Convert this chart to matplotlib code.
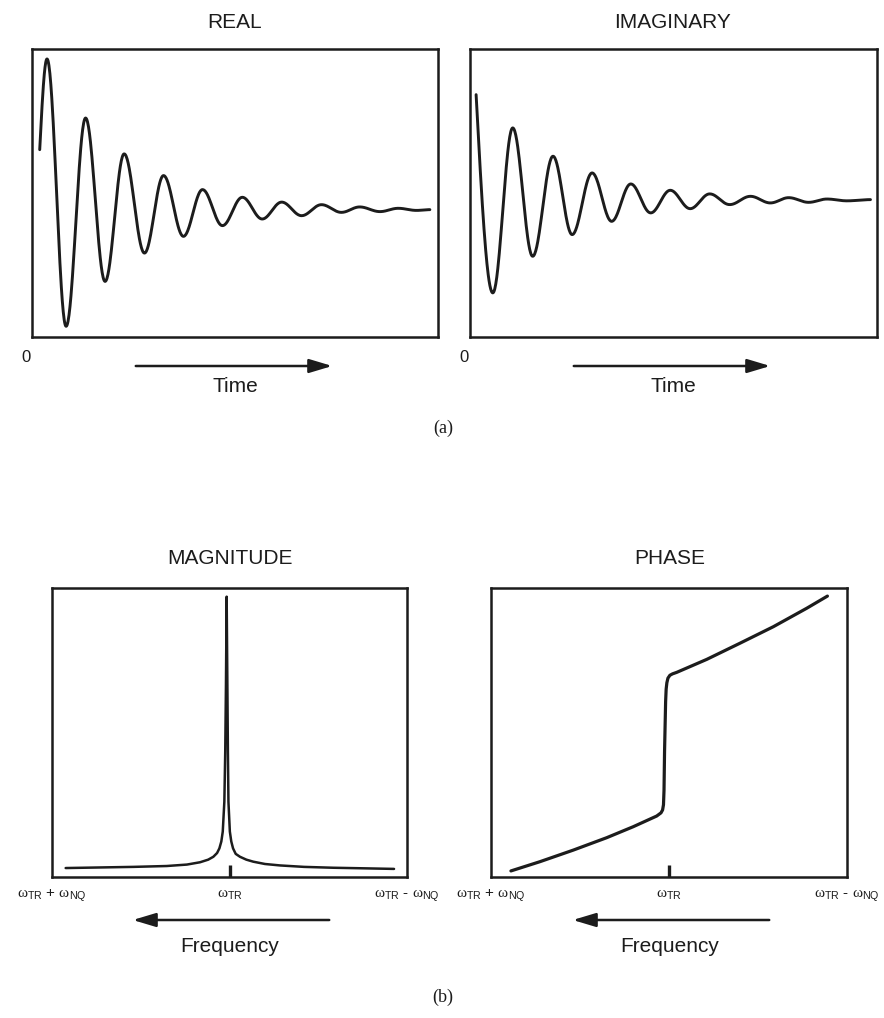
import numpy as np
import matplotlib
matplotlib.use("Agg")
import matplotlib.pyplot as plt

plt.rcParams['font.family'] = ['Liberation Sans', 'DejaVu Sans']
plt.rcParams['mathtext.fontset'] = 'custom'
plt.rcParams['mathtext.rm'] = 'Liberation Serif'
plt.rcParams['mathtext.it'] = 'Liberation Serif'
plt.rcParams['mathtext.sf'] = 'Liberation Sans'

# ---- data ----
# time-domain signals: key points (extrema), time as fraction of the record
real_t = [0.019, 0.037, 0.084, 0.132, 0.180, 0.227, 0.277, 0.324, 0.373, 0.420, 0.469,
          0.518, 0.567, 0.615, 0.664, 0.713, 0.762, 0.807, 0.857, 0.902, 0.947, 0.980]
real_y = [0.398, 1.000, -0.774, 0.608, -0.476, 0.370, -0.288, 0.226, -0.177, 0.133, -0.106,
          0.082, -0.062, 0.050, -0.040, 0.033, -0.018, 0.018, -0.013, 0.009, -0.005, 0.0]

imag_t = [0.015, 0.056, 0.105, 0.154, 0.204, 0.251, 0.300, 0.348, 0.395, 0.444, 0.492,
          0.541, 0.589, 0.638, 0.689, 0.738, 0.783, 0.832, 0.877, 0.926, 0.984]
imag_y = [0.697, -0.619, 0.476, -0.376, 0.288, -0.232, 0.177, -0.144, 0.104, -0.088, 0.062,
          -0.060, 0.038, -0.033, 0.022, -0.022, 0.013, -0.018, 0.004, -0.008, 0.0]

# frequency-domain: (frequency offset, value)
mag_f = [-0.923, -0.730, -0.542, -0.354, -0.240, -0.166, -0.120, -0.091, -0.070, -0.057,
         -0.046, -0.038, -0.029, -0.024, -0.020, -0.016, -0.012, -0.009, -0.006, 0.002,
         0.010, 0.020, 0.035, 0.059, 0.095, 0.134, 0.200, 0.285, 0.420, 0.585, 0.760, 0.927]
mag_v = [0.031, 0.033, 0.035, 0.038, 0.043, 0.051, 0.060, 0.070, 0.083, 0.099,
         0.123, 0.157, 0.261, 0.434, 0.664, 0.970, 0.664, 0.434, 0.261, 0.157,
         0.123, 0.099, 0.080, 0.070, 0.060, 0.053, 0.045, 0.040, 0.035, 0.032, 0.030, 0.028]

phase_f = [-0.888, -0.725, -0.538, -0.350, -0.201, -0.069, -0.045, -0.036, -0.031, -0.028,
           -0.025, -0.019, -0.016, -0.012, -0.006, 0.005, 0.020, 0.043, 0.212, 0.399,
           0.586, 0.774, 0.890]
phase_v = [0.021, 0.053, 0.093, 0.136, 0.174, 0.211, 0.222, 0.232, 0.250, 0.300,
           0.434, 0.607, 0.650, 0.672, 0.688, 0.698, 0.703, 0.708, 0.753, 0.809,
           0.866, 0.930, 0.972]

freq_labels = [r'$\omega_{\mathsf{TR}}$ + $\omega_{\mathsf{NQ}}$',
               r'$\omega_{\mathsf{TR}}$',
               r'$\omega_{\mathsf{TR}}$ - $\omega_{\mathsf{NQ}}$']
freq_pos = [-1, 0, 1]

W, H = 884, 1018
ink = '#1c1c1c'


def smooth(xs, ys, n=40):
    # sine-like segments between the read extrema
    ox, oy = [], []
    for i in range(len(xs) - 1):
        s = np.linspace(0, 1, n, endpoint=False)
        w = np.sin(np.pi / 2 * s) if i == 0 else (1 - np.cos(np.pi * s)) / 2
        ox.extend(xs[i] + (xs[i + 1] - xs[i]) * s)
        oy.extend(ys[i] + (ys[i + 1] - ys[i]) * w)
    ox.append(xs[-1])
    oy.append(ys[-1])
    return ox, oy


def box(x0, y0, x1, y1):
    return fig.add_axes([x0 / W, 1 - y1 / H, (x1 - x0) / W, (y1 - y0) / H])


def ftext(px, py, s, **kw):
    fig.text(px / W, 1 - py / H, s, ha='center', va='center', color=ink, **kw)


def farrow(x_from, x_to, py):
    fig.add_artist(matplotlib.patches.FancyArrowPatch(
        (x_from / W, 1 - py / H), (x_to / W, 1 - py / H), transform=fig.transFigure,
        arrowstyle='-|>,head_length=1.0,head_width=0.3', mutation_scale=14,
        color=ink, lw=1.8))


fig = plt.figure(figsize=(W / 100, H / 100), dpi=100)

panels = [
    (box(32, 49, 438, 337), real_t, real_y, (-0.845, 1.066), 'REAL', 235),
    (box(470, 49, 877, 337), imag_t, imag_y, (-0.912, 1.0), 'IMAGINARY', 673),
]
for ax, t, y, ylim, title, cx in panels:
    sx, sy = smooth(t, y)
    ax.plot(sx, sy, color=ink, lw=2.1, solid_capstyle='round')
    ax.set_xlim(0, 1)
    ax.set_ylim(*ylim)
    ax.set_xticks([])
    ax.set_yticks([])
    for sp in ax.spines.values():
        sp.set_linewidth(1.8)
        sp.set_color(ink)
    ftext(cx, 22, title, fontsize=15)
    ftext(cx - 209, 358, '0', fontsize=12)
    farrow(cx - 102, cx + 100, 366)
    ftext(cx, 386, 'Time', fontsize=15)

ftext(443, 428, '(a)', fontsize=13, family='Liberation Serif')

panels = [
    (box(52, 588, 407, 877), mag_f, mag_v, 1.8, 'MAGNITUDE', 230),
    (box(491, 588, 847, 877), phase_f, phase_v, 2.3, 'PHASE', 670),
]
for ax, f, v, lw, title, cx in panels:
    ax.plot(f, v, color=ink, lw=lw, solid_joinstyle='round', solid_capstyle='round')
    ax.set_xlim(-1, 1)
    ax.set_ylim(0, 1)
    ax.set_yticks([])
    ax.set_xticks([0], [''])
    ax.tick_params(axis='x', direction='in', length=9, width=2.4, color=ink)
    for sp in ax.spines.values():
        sp.set_linewidth(1.8)
        sp.set_color(ink)
    for p, lab in zip(freq_pos, freq_labels):
        ax.text(p, -0.062, lab, transform=ax.get_xaxis_transform(), ha='center',
                va='center', fontsize=11, color=ink)
    ftext(cx, 558, title, fontsize=15)
    farrow(cx + 102, cx - 100, 920)
    ftext(cx, 946, 'Frequency', fontsize=15)

ftext(443, 997, '(b)', fontsize=13, family='Liberation Serif')

fig.savefig('out.png', dpi=100, facecolor='white')
